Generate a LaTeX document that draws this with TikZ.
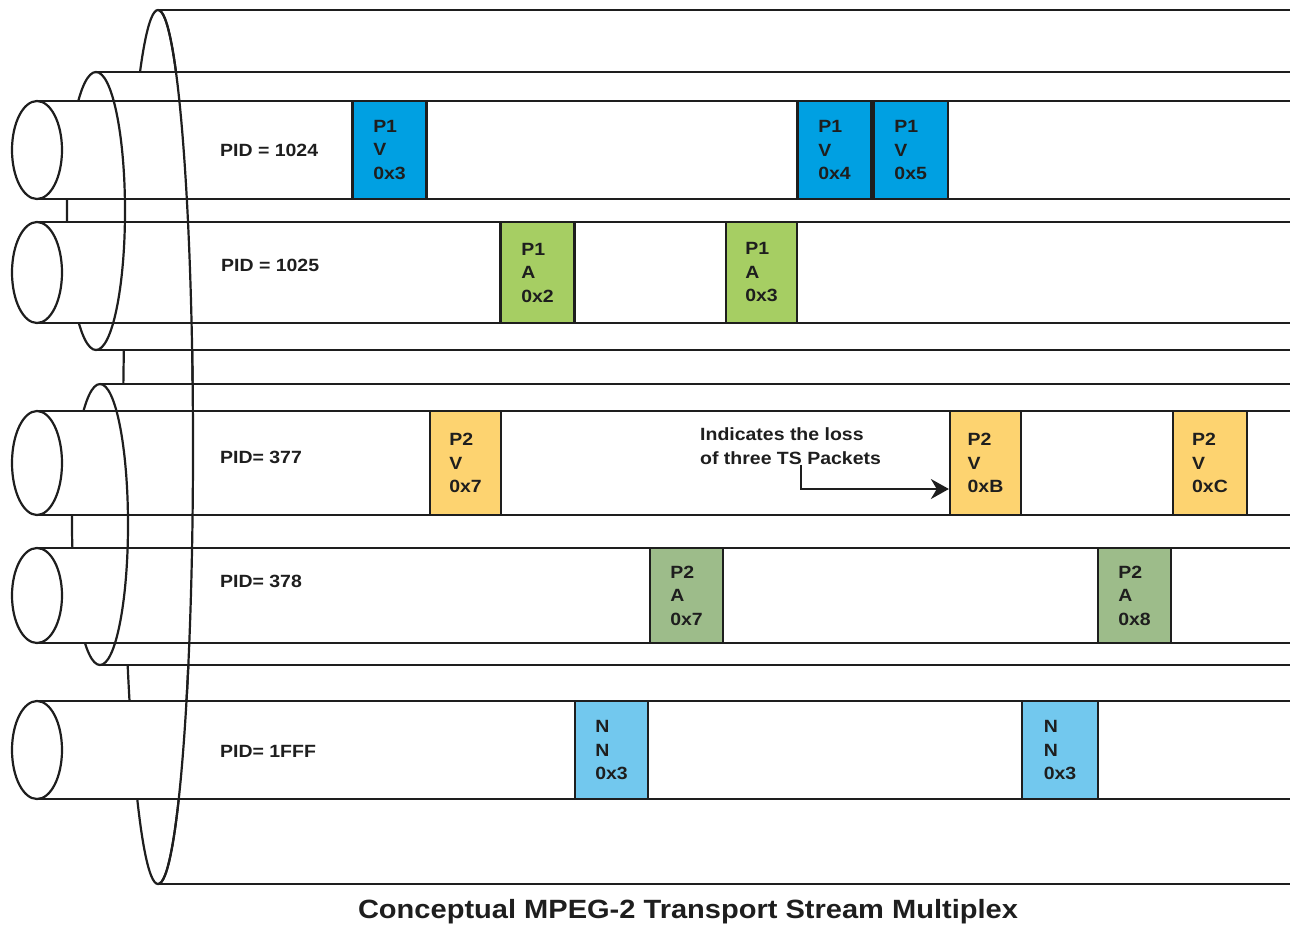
\documentclass[tikz,border=0pt]{standalone}
\usepackage{fontspec}
\setmainfont{Liberation Sans}[FakeStretch=1.1]
\usepackage{xcolor}
\usetikzlibrary{arrows.meta}
\usetikzlibrary{positioning}

\definecolor{vidone}{RGB}{0,160,226}
\definecolor{audone}{RGB}{166,206,99}
\definecolor{vidtwo}{RGB}{253,211,112}
\definecolor{audtwo}{RGB}{157,188,138}
\definecolor{nullpk}{RGB}{114,200,238}
\definecolor{inkgray}{RGB}{30,30,30}

\begin{document}
\begin{tikzpicture}[
    x=1pt, y=-1pt,
    pipe/.style={line width=2.2pt, draw=inkgray},
    packet/.style={rectangle, draw=inkgray, line width=2.2pt, minimum width=74pt,
      inner sep=0pt, align=left, text=inkgray,
      font=\bfseries\fontsize{17.7}{23.5}\selectfont},
    pid/.style={anchor=west, inner sep=0pt, text=inkgray,
      font=\bfseries\fontsize{17.7}{22}\selectfont},
    note/.style={anchor=west, inner sep=0pt, align=left, text=inkgray,
      font=\bfseries\fontsize{17.7}{24}\selectfont},
    pointer/.style={line width=2.2pt, draw=inkgray, -{Stealth[length=18pt, width=20pt]}},
  ]
  \useasboundingbox (0,0) rectangle (1290,927);

  % Outer pipe (back)
  \draw[pipe] (158,10) -- (1290,10);
  \draw[pipe] (158,884) -- (1290,884);
  \draw[pipe] (158,447) ellipse [x radius=35, y radius=437];

  % Program pipes (back)
  \fill[white] (96,72) -- (1290,72) -- (1290,350) -- (96,350)
    arc[start angle=90, end angle=270, x radius=29, y radius=139] -- cycle;
  \draw[pipe] (96,72) -- (1290,72) (96,350) -- (1290,350);
  \draw[pipe] (96,350) arc[start angle=90, end angle=270, x radius=29, y radius=139];

  \fill[white] (100,384) -- (1290,384) -- (1290,665) -- (100,665)
    arc[start angle=90, end angle=270, x radius=28, y radius=140.5] -- cycle;
  \draw[pipe] (100,384) -- (1290,384) (100,665) -- (1290,665);
  \draw[pipe] (100,665) arc[start angle=90, end angle=270, x radius=28, y radius=140.5];

  % PID pipes
  \fill[white] (37,101) rectangle (1290,199);
  \draw[pipe] (37,101) -- (1290,101) (37,199) -- (1290,199);
  \filldraw[pipe, fill=white] (37,150) ellipse [x radius=25, y radius=49];

  \fill[white] (37,222) rectangle (1290,323);
  \draw[pipe] (37,222) -- (1290,222) (37,323) -- (1290,323);
  \filldraw[pipe, fill=white] (37,272.5) ellipse [x radius=25, y radius=50.5];

  \fill[white] (37,411) rectangle (1290,515);
  \draw[pipe] (37,411) -- (1290,411) (37,515) -- (1290,515);
  \filldraw[pipe, fill=white] (37,463) ellipse [x radius=25, y radius=52];

  \fill[white] (37,548) rectangle (1290,643);
  \draw[pipe] (37,548) -- (1290,548) (37,643) -- (1290,643);
  \filldraw[pipe, fill=white] (37,595.5) ellipse [x radius=25, y radius=47.5];

  \fill[white] (37,701) rectangle (1290,799);
  \draw[pipe] (37,701) -- (1290,701) (37,799) -- (1290,799);
  \filldraw[pipe, fill=white] (37,750) ellipse [x radius=25, y radius=49];

  % Front halves of the rims
  \draw[pipe] (96,72) arc[start angle=270, end angle=450, x radius=29, y radius=139];
  \draw[pipe] (100,384) arc[start angle=270, end angle=450, x radius=28, y radius=140.5];
  \draw[pipe] (158,10) arc[start angle=270, end angle=450, x radius=35, y radius=437];

  % PID labels
  \node[pid] (pid1024) at (220,150) {PID = 1024};
  \node[pid] (pid1025) at (221,265) {PID = 1025};
  \node[pid] (pid377)  at (220,457) {PID= 377};
  \node[pid] (pid378)  at (220,581) {PID= 378};
  \node[pid] (pid1fff) at (220,751) {PID= 1FFF};

  % Packets
  \node[packet, fill=vidone, minimum height=98pt]  (p1v3) at (389.5,150) {P1\\V\\0x3};
  \node[packet, fill=vidone, minimum height=98pt]  (p1v4) at (834.5,150) {P1\\V\\0x4};
  \node[packet, fill=vidone, minimum height=98pt, right=0pt of p1v4] (p1v5) {P1\\V\\0x5};

  \node[packet, fill=audone, minimum height=101pt] (p1a2) at (537.5,272.5) {P1\\A\\0x2};
  \node[packet, fill=audone, minimum height=101pt, minimum width=71pt] (p1a3) at (761.5,272.5) {P1\\A\\0x3};

  \node[packet, fill=vidtwo, minimum height=104pt, minimum width=71pt] (p2v7) at (465.5,463) {P2\\V\\0x7};
  \node[packet, fill=vidtwo, minimum height=104pt, minimum width=71pt] (p2vb) at (985.5,463) {P2\\V\\0xB};
  \node[packet, fill=vidtwo, minimum height=104pt] (p2vc) at (1210,463) {P2\\V\\0xC};

  \node[packet, fill=audtwo, minimum height=95pt, minimum width=73pt] (p2a7) at (686.5,595.5) {P2\\A\\0x7};
  \node[packet, fill=audtwo, minimum height=95pt, minimum width=73pt] (p2a8) at (1134.5,595.5) {P2\\A\\0x8};

  \node[packet, fill=nullpk, minimum height=98pt, minimum width=73pt] (nn1) at (611.5,750) {N\\N\\0x3};
  \node[packet, fill=nullpk, minimum height=98pt, minimum width=76pt] (nn2) at (1060,750) {N\\N\\0x3};

  % Loss note
  \node[note] (loss) at (700,446) {Indicates the loss\\of three TS Packets};
  \coordinate (bend) at (801,489);
  \draw[pointer] (loss.south -| bend) |- (p2vb.west |- bend);

  \node[inner sep=0pt, text=inkgray, font=\bfseries\fontsize{26.4}{30}\selectfont]
    (caption) at (688,912) {Conceptual MPEG-2 Transport Stream Multiplex};

\end{tikzpicture}
\end{document}
